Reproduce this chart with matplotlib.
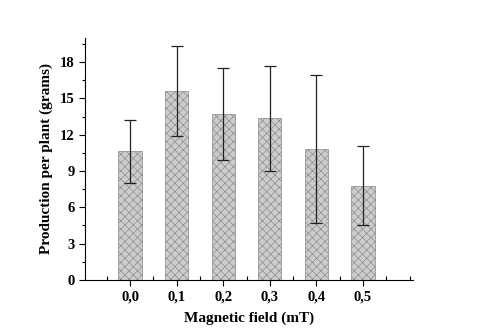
import numpy as np
import matplotlib
matplotlib.use('Agg')
import matplotlib.pyplot as plt
from matplotlib.ticker import MultipleLocator

# data
fields = ['0,0', '0,1', '0,2', '0,3', '0,4', '0,5']
production = [10.65, 15.6, 13.75, 13.35, 10.8, 7.8]
errors = [2.6, 3.7, 3.8, 4.35, 6.1, 3.25]

plt.rcParams['font.family'] = ['Liberation Serif', 'DejaVu Serif']
plt.rcParams['font.weight'] = 'bold'
plt.rcParams['hatch.linewidth'] = 0.45
plt.rcParams['hatch.color'] = '#4a4a4a'

fig = plt.figure(figsize=(4.8, 3.36), dpi=100)
ax = fig.add_axes([0.177, 0.167, 0.683, 0.72])

x = np.arange(1, len(fields) + 1)
ax.bar(x, production, width=0.5, color='#cccccc', edgecolor='#888888',
       linewidth=0.5, hatch='xxxx')
ax.errorbar(x, production, yerr=errors, fmt='none', ecolor='#222222',
            elinewidth=0.9, capsize=4, capthick=0.9)

ax.set_xlim(0.03, 7.07)
ax.set_ylim(0, 20)
ax.set_xticks(x)
ax.set_xticklabels(fields)
ax.xaxis.set_minor_locator(MultipleLocator(0.5))
ax.yaxis.set_major_locator(MultipleLocator(3))
ax.yaxis.set_minor_locator(MultipleLocator(1.5))

ax.spines['top'].set_visible(False)
ax.spines['right'].set_visible(False)
ax.tick_params(which='major', direction='out', length=4, width=0.8, labelsize=10.5)
ax.tick_params(axis='x', which='minor', direction='in', length=3, width=0.8)
ax.tick_params(axis='y', which='minor', direction='out', length=2.5, width=0.8)
for lbl in ax.get_xticklabels() + ax.get_yticklabels():
    lbl.set_fontweight('bold')

ax.set_xlabel('Magnetic field (mT)', fontsize=11, fontweight='bold', labelpad=6)
ax.set_ylabel('Production per plant (grams)', fontsize=11, fontweight='bold', labelpad=5)

fig.savefig('out.png', dpi=100)
